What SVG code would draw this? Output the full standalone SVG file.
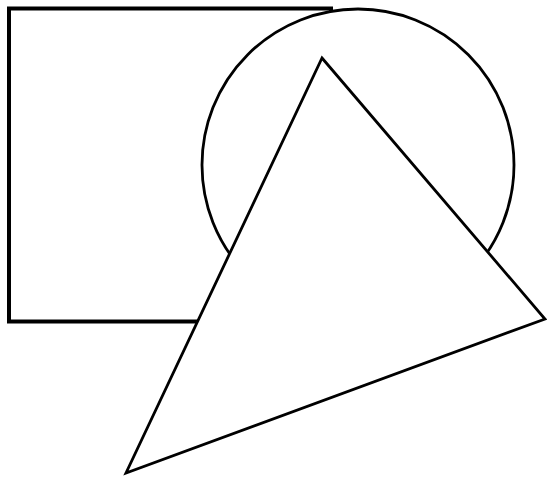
<svg xmlns="http://www.w3.org/2000/svg" width="547" height="477" viewBox="0 0 547 477">
<style>
.s{fill:#fff;stroke:#000;stroke-linejoin:miter}
</style>
<rect width="547" height="477" fill="#fff"/>
<rect class="s" x="9" y="8.5" width="322" height="313" stroke-width="4"/>
<circle class="s" cx="358" cy="165" r="156" stroke-width="2.8"/>
<polygon class="s" points="322,58 545,319 126,473" stroke-width="2.8"/>
</svg>
